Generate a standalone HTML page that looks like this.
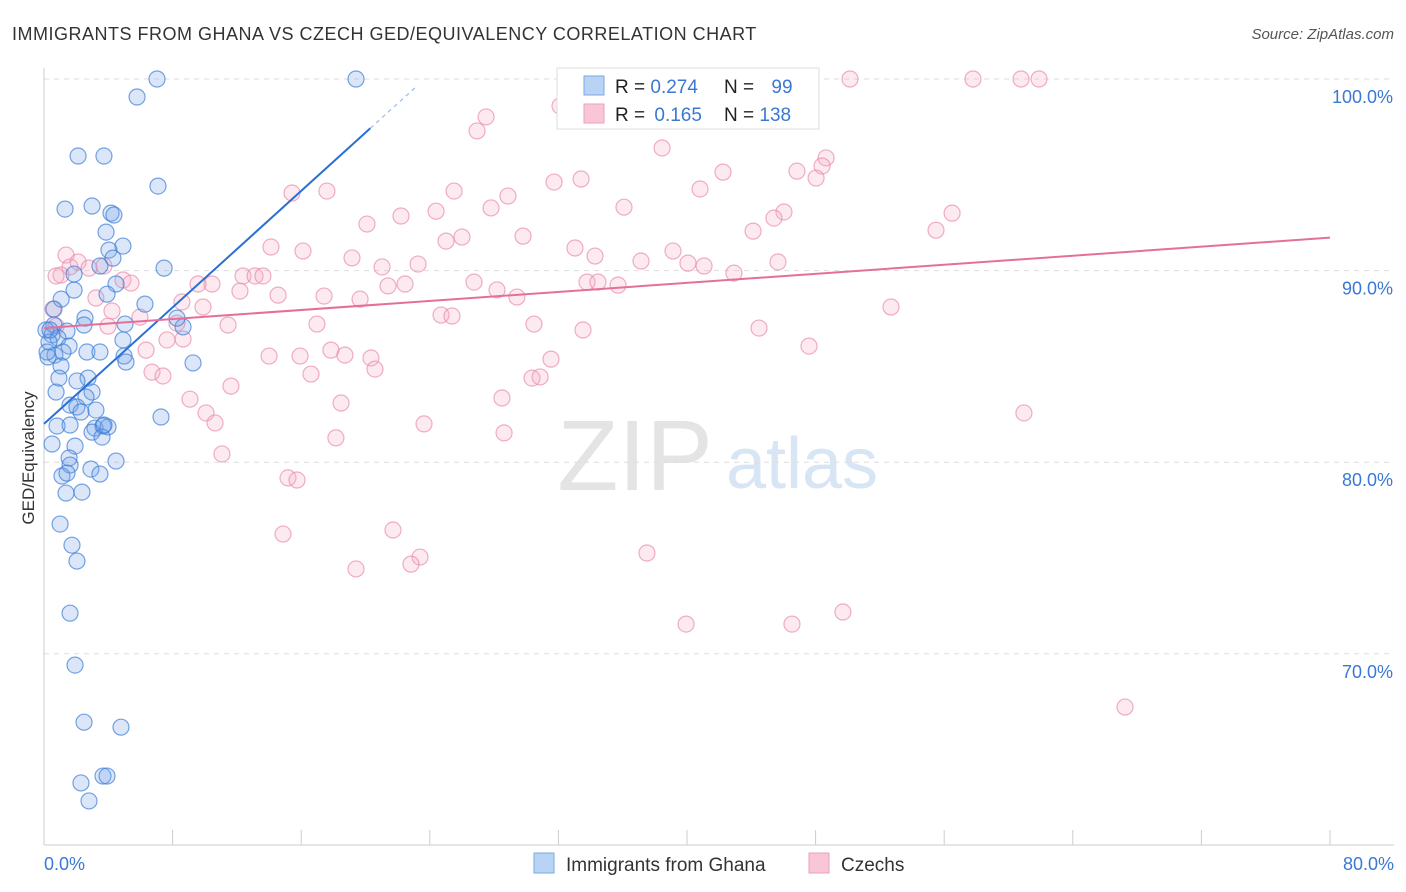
<!DOCTYPE html>
<html><head><meta charset="utf-8">
<style>
body{margin:0;background:#fff;font-family:"Liberation Sans",sans-serif;}
#wrap{position:relative;width:1406px;height:892px;overflow:hidden;}
svg text{font-family:"Liberation Sans",sans-serif;}
</style></head>
<body>
<div id="wrap">
<svg id="chart" width="1406" height="892">
  <text x="12" y="40" font-size="18" letter-spacing="0.5" fill="#333">IMMIGRANTS FROM GHANA VS CZECH GED/EQUIVALENCY CORRELATION CHART</text>
  <text x="1394" y="39" font-size="15" fill="#555" font-style="italic" text-anchor="end">Source: ZipAtlas.com</text>
  <g>
    <text x="635" y="490" font-size="100" fill="#e4e4e4" font-family="Liberation Serif" text-anchor="middle">ZIP</text>
    <text x="802" y="488" font-size="72" fill="#d8e5f5" text-anchor="middle">atlas</text>
  </g>
  <g id="grid"></g>
  <g id="axes"></g>
  <g id="points"></g>
  <g id="trends"></g>
  <text transform="translate(34,458) rotate(-90)" font-size="17" fill="#333" text-anchor="middle">GED/Equivalency</text>
  <g>
    <rect x="557" y="68" width="262" height="61" fill="#fff" stroke="#ddd"/>
    <rect x="584" y="76" width="20" height="19" fill="#b9d3f5" stroke="#7aa9e6"/>
    <rect x="584" y="104" width="20" height="19" fill="#f9c6d6" stroke="#eba1ba"/>
    <text x="615" y="93" font-size="19" fill="#222">R = <tspan fill="#3a78d4">0.274</tspan></text>
    <text x="724" y="93" font-size="19" fill="#222">N = <tspan fill="#3a78d4" dx="12">99</tspan></text>
    <text x="615" y="121" font-size="19" fill="#222">R = <tspan fill="#3a78d4" dx="4">0.165</tspan></text>
    <text x="724" y="121" font-size="19" fill="#222">N = <tspan fill="#3a78d4">138</tspan></text>
  </g>
  <g>
    <rect x="534" y="853" width="20" height="20" fill="#b9d3f5" stroke="#7aa9e6"/>
    <text x="566" y="871" font-size="19" fill="#333">Immigrants from Ghana</text>
    <rect x="809" y="853" width="20" height="20" fill="#f9c6d6" stroke="#eba1ba"/>
    <text x="841" y="871" font-size="19" fill="#333">Czechs</text>
  </g>
</svg>
</div>
<script>
const yTicks=[100,90,80,70];
const yTickLabels=["100.0%","90.0%","80.0%","70.0%"];
const xTickLabels=["0.0%","80.0%"];
const blueX=[7.03,19.41,5.79,2.12,3.73,7.09,1.31,2.99,4.17,4.35,3.86,4.91,4.04,4.29,3.48,7.47,1.87,4.48,1.07,1.87,3.92,6.28,0.62,5.04,2.55,2.49,0.62,0.12,1.43,0.5,0.87,0.31,1.56,2.67,3.48,4.91,8.65,8.27,0.68,1.18,0.25,4.98,5.1,9.27,1.06,2.74,2.05,0.93,0.75,2.99,2.61,1.62,2.05,3.23,2.3,7.28,3.17,3.67,3.98,0.81,1.62,2.99,3.61,0.5,1.93,1.56,1.62,4.48,2.92,3.48,1.12,1.43,1.37,2.36,1.0,1.74,2.05,1.62,1.93,2.49,4.79,2.3,3.67,3.92,2.8,3.73,0.37,0.19];
const blueY=[100,100,99.06,95.98,95.98,94.41,93.21,93.37,93.0,92.9,92.01,91.28,91.07,90.65,90.24,90.13,89.82,89.3,88.51,88.98,88.77,88.25,87.99,87.21,87.52,87.16,87.16,86.9,86.84,86.64,86.48,86.27,86.06,85.75,85.75,86.38,87.06,87.52,85.59,85.75,85.49,85.54,85.23,85.18,85.02,84.39,84.24,84.39,83.66,83.66,83.4,82.98,82.88,82.72,82.62,82.36,81.78,81.89,81.84,81.89,81.94,81.57,81.31,80.95,80.84,80.22,79.85,80.06,79.64,79.38,79.28,79.43,78.39,78.44,76.77,75.67,74.84,72.12,69.41,66.43,66.17,63.26,63.62,63.62,62.32,81.94,86.9,85.75];
const pinkX=[36.27,50.14,57.79,60.78,61.9,32.1,27.5,26.94,38.45,48.65,48.4,42.24,46.84,48.03,31.73,33.41,40.81,15.43,17.6,25.51,28.86,36.08,24.39,27.81,22.21,46.03,45.41,20.09,56.49,55.49,44.11,25.01,26.0,29.8,33.03,34.28,39.13,14.12,16.11,37.14,40.06,41.06,45.66,42.92,19.16,21.03,23.27,26.75,28.18,29.42,33.78,34.46,35.71,1.37,1.62,2.12,2.8,3.73,1.06,4.91,5.41,10.45,9.58,12.38,13.13,13.62,12.19,14.56,17.42,19.66,22.46,21.4,3.23,4.23,5.97,8.58,9.89,8.27,11.45,16.98,24.7,25.38,30.48,33.53,44.48,52.69,3.98,7.65,8.65,14.0,15.93,17.85,18.72,20.34,20.59,31.54,47.59,6.72,7.4,6.35,0.56,0.75,16.61,11.63,9.08,10.08,10.64,18.48,28.49,30.36,30.86,23.64,28.62,18.16,11.07,15.18,15.74,21.71,14.87,23.39,22.83,19.41,37.51,39.94,46.53,49.7,60.96,67.25,0.75];
const pinkY=[100,100,100,100,100,98.59,98.02,97.29,96.4,95.88,95.46,95.14,95.19,94.83,94.62,94.78,94.26,94.05,94.15,94.15,93.89,93.31,93.1,93.27,92.85,93.06,92.74,92.43,93.0,92.11,92.06,91.54,91.75,91.8,91.18,90.76,91.02,91.23,91.02,90.5,90.39,90.24,90.45,89.87,90.66,90.19,90.34,89.4,88.99,88.62,89.4,89.4,89.24,90.81,90.19,90.45,90.13,90.24,89.77,89.51,89.35,89.3,89.3,89.72,89.72,89.72,88.93,88.72,88.67,88.51,89.3,89.2,88.57,87.89,87.57,88.36,88.1,87.26,87.16,87.21,87.68,87.63,87.21,86.9,87.0,88.1,87.1,86.38,86.43,85.54,85.54,85.85,85.59,85.44,84.86,85.38,86.06,84.7,84.5,85.85,87.99,87.1,84.6,83.97,83.29,82.57,82.05,83.09,83.35,84.39,84.45,82.0,81.53,81.27,80.43,79.18,79.07,76.46,76.25,75.05,74.68,74.43,75.26,71.55,71.55,72.18,82.57,67.22,89.72];
const blueTrend=[82.0,0.76];
const pinkTrend=[87.0,0.059];

const NS="http://www.w3.org/2000/svg";
function sx(v){return 44+v*16.075;}
function sy(v){return 79+(100-v)*19.16;}
function mk(tag,attrs,parent){const e=document.createElementNS(NS,tag);for(const k in attrs)e.setAttribute(k,attrs[k]);parent.appendChild(e);return e;}
const grid=document.getElementById('grid'),axes=document.getElementById('axes'),pts=document.getElementById('points'),tr=document.getElementById('trends');
yTicks.forEach((t,i)=>{
  const l=mk('line',{x1:44,x2:1394,y1:sy(t),y2:sy(t),stroke:'#ddd','stroke-dasharray':'5,5'},grid);
  
  
  const tx=mk('text',{x:1393,y:sy(t)+24,'font-size':18,fill:'#3a78d4','text-anchor':'end'},axes);
  tx.textContent=yTickLabels[i];
  
  
});
const ya=mk('line',{x1:44,x2:44,y1:68,y2:845,stroke:'#ccc'},axes);


const xa=mk('line',{x1:44,x2:1394,y1:845,y2:845,stroke:'#ccc'},axes);


for(let i=0;i<=10;i++){
  const t=mk('line',{x1:sx(i*8),x2:sx(i*8),y1:830,y2:845,stroke:'#ccc'},axes);
  
  
}
[[0,'start',44],[80,'end',1394]].forEach((d,i)=>{
  const tx=mk('text',{x:d[2],y:870,'font-size':18,fill:'#3a78d4','text-anchor':d[1]},axes);
  tx.textContent=xTickLabels[i];
  
  
});
function drawPts(X,Y,fill,stroke,name){
  const n=Math.min(X.length,Y.length);
  for(let i=0;i<n;i++){
    const c=mk('circle',{cx:sx(X[i]),cy:sy(Y[i]),r:8,fill:fill,stroke:stroke,'stroke-width':1.2},pts);
    
    
  }
}
drawPts(pinkX,pinkY,'rgba(244,170,196,0.25)','rgba(232,140,172,0.7)','czech-point');
drawPts(blueX,blueY,'rgba(110,160,232,0.25)','rgba(60,125,215,0.7)','ghana-point');
const bl=mk('line',{x1:sx(0),y1:sy(blueTrend[0]),x2:sx(20.3),y2:sy(blueTrend[0]+blueTrend[1]*20.3),stroke:'#2a6fd6','stroke-width':2},tr);


const bd=mk('line',{x1:sx(20.3),y1:sy(blueTrend[0]+blueTrend[1]*20.3),x2:sx(23.1),y2:sy(blueTrend[0]+blueTrend[1]*23.1),stroke:'#9bbbe8','stroke-width':1.2,'stroke-dasharray':'4,4'},tr);


const pl=mk('line',{x1:sx(0),y1:sy(pinkTrend[0]),x2:sx(80),y2:sy(pinkTrend[0]+pinkTrend[1]*80),stroke:'#e4709a','stroke-width':2},tr);


</script>
</body></html>
